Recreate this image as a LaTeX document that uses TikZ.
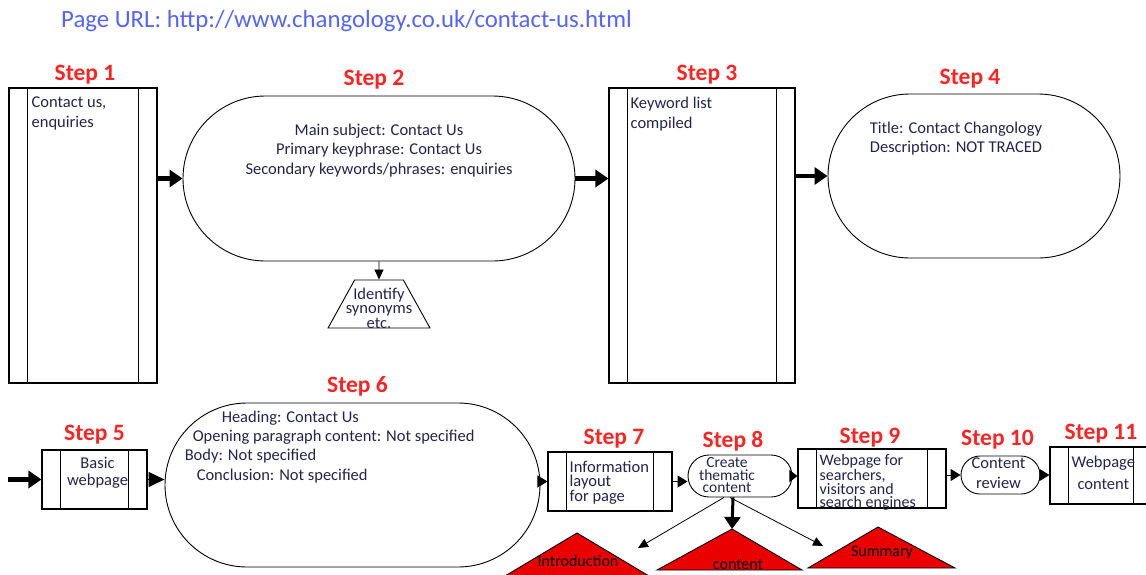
\documentclass[tikz,border=0pt]{standalone}
\usepackage{fontspec}
\setmainfont{Carlito}
\usepackage{xcolor}
\usetikzlibrary{shapes.misc,shapes.geometric,arrows.meta,positioning}

\definecolor{steprd}{RGB}{255,35,35}
\definecolor{urlblue}{RGB}{85,100,250}
\definecolor{inkblue}{RGB}{35,35,75}
\definecolor{trired}{RGB}{235,0,0}

\begin{document}
\begin{tikzpicture}[x=1pt, y=-1pt,
    stepname/.style={text=steprd, font=\fontsize{23.5}{23.5}\selectfont\bfseries, inner sep=1pt},
    procbox/.style={draw, rectangle, line width=1.1pt, inner sep=0pt,
        path picture={
            \draw[line width=1.1pt] ([xshift=18.5pt]path picture bounding box.north west) -- ([xshift=18.5pt]path picture bounding box.south west);
            \draw[line width=1.1pt] ([xshift=-18.5pt]path picture bounding box.north east) -- ([xshift=-18.5pt]path picture bounding box.south east);
        }},
    stadium/.style={draw, rounded rectangle, line width=0.9pt, inner sep=0pt},
    boxtxt/.style={text=inkblue, font=\fontsize{16.5}{20}\selectfont, align=left, inner sep=0pt},
    smalltxt/.style={text=inkblue, font=\fontsize{16.5}{14}\selectfont, align=left, inner sep=0pt},
    tri/.style={draw, fill=trired, line width=0.9pt},
    bigarrow/.style={line width=4.5pt, -{Triangle[length=13pt,width=17pt]}},
    headarrow/.style={line width=1pt, -{Triangle[length=10pt,width=12pt]}},
    thinarrow/.style={line width=0.8pt, -{Triangle[length=10pt,width=9pt]}}
]
\useasboundingbox (0,0) rectangle (1146,574);

\node[anchor=west, text=urlblue, font=\fontsize{24.8}{24.8}\selectfont, inner sep=0pt] (url) at (61,21)
    {Page URL: http://www.changology.co.uk/contact-us.html};

% top row
\node[procbox, minimum width=148pt, minimum height=295pt] (s1) at (83,235.5) {};
\node[stadium, minimum width=392pt, minimum height=165pt] (s2) at (379,178.5) {};
\node[draw, trapezium, trapezium left angle=63, trapezium right angle=63, trapezium stretches=true,
    minimum width=102pt, minimum height=48pt, inner sep=1pt, line width=0.9pt] (syn) at (379,304) {\phantom{x}};
\node[smalltxt, align=center, font=\fontsize{16.5}{14.5}\selectfont] (syntxt) at ([yshift=-4pt]syn.center) {Identify\\synonyms\\etc.};
\node[procbox, minimum width=186pt, minimum height=295pt] (s3) at (702,235.5) {};
\node[stadium, minimum width=292pt, minimum height=164pt] (s4) at (974,176) {};

\node[stepname, above=2pt of s1, xshift=2pt] (l1) {Step 1};
\node[stepname, above=5pt of s2, xshift=-5pt] (l2) {Step 2};
\node[stepname, above=2pt of s3, xshift=5pt] (l3) {Step 3};
\node[stepname, above=4pt of s4, xshift=-4pt] (l4) {Step 4};

\node[boxtxt, below right=9pt and 23pt of s1.north west] (t1) {Contact us,\\enquiries};
\node[boxtxt, align=center, font=\fontsize{16.5}{19.5}\selectfont, below=28pt of s2.north] (t2) {Main subject: Contact Us\\Primary keyphrase: Contact Us\\Secondary keywords/phrases: enquiries};
\node[boxtxt, below right=9pt and 22pt of s3.north west] (t3) {Keyword list\\compiled};
\node[boxtxt, align=center, font=\fontsize{16.5}{19}\selectfont, below=28pt of s4.north, xshift=-18pt] (t4) {Title: Contact Changology\\Description: NOT TRACED};

\draw[bigarrow] (s1.east |- s2.west) -- (s2.west);
\draw[bigarrow] (s2.east) -- (s3.west |- s2.east);
\draw[bigarrow] (s3.east |- s4.west) -- (s4.west);
\draw[thinarrow] (s2.south) -- (syn.north);

% bottom row
\coordinate (in5) at (8,479.5);
\node[procbox, minimum width=105pt, minimum height=59pt] (s5) at (94.5,479.5) {};
\node[stadium, minimum width=375pt, minimum height=164pt] (s6) at (352.5,485) {};
\coordinate (s6nw) at (s6.west |- s6.north);
\node[procbox, minimum width=124pt, minimum height=59pt] (s7) at (610,481.5) {};
\node[stadium, minimum width=104pt, minimum height=42pt] (s8) at (740,476) {};
\node[procbox, minimum width=148pt, minimum height=59pt] (s9) at (872,478.5) {};
\node[stadium, minimum width=79pt, minimum height=38pt] (s10) at (1000.5,475) {};
\node[procbox, minimum width=102pt, minimum height=57pt] (s11) at (1101,475.5) {};

\node[stepname, above=4pt of s5] (l5) {Step 5};
\node[stepname, above=5pt of s6, xshift=5pt] (l6) {Step 6};
\node[stepname, above=2pt of s7, xshift=4pt] (l7) {Step 7};
\node[stepname, above=2pt of s8, xshift=-7pt] (l8) {Step 8};
\node[stepname, above=0pt of s9, xshift=-2pt] (l9) {Step 9};
\node[stepname, above=5pt of s10, xshift=-3pt] (l10) {Step 10};
\node[stepname, above=2pt of s11] (l11) {Step 11};

\node[boxtxt, align=center, font=\fontsize{16.5}{17}\selectfont, below=7pt of s5.north, xshift=3pt] (t5) {Basic\\webpage};
\node[boxtxt, font=\fontsize{16.5}{19.3}\selectfont, below right=8pt and 20pt of s6nw] (t6)
    {\hspace*{37pt}Heading: Contact Us\\\hspace*{8pt}Opening paragraph content: Not specified\\Body: Not specified\\\hspace*{12pt}Conclusion: Not specified};
\node[smalltxt, font=\fontsize{16.5}{14.5}\selectfont, below right=9pt and 22pt of s7.north west] (t7) {Information\\layout\\for page};
\node[smalltxt, align=center, font=\fontsize{15.5}{12.5}\selectfont, below=3pt of s8.north, xshift=-13pt] (t8) {Create\\thematic\\content};
\node[smalltxt, font=\fontsize{16}{13.6}\selectfont, below right=6pt and 22pt of s9.north west] (t9) {Webpage for\\searchers,\\visitors and\\search engines};
\node[smalltxt, align=center, font=\fontsize{16.5}{20}\selectfont, below=2pt of s10.north, xshift=-2pt] (t10) {Content\\review};
\node[smalltxt, align=center, font=\fontsize{16.5}{22}\selectfont, below right=9pt and 22pt of s11.north west] (t11) {Webpage\\content};

\draw[bigarrow] (in5) -- (s5.west);
\draw[headarrow, -{Triangle[length=16pt,width=15pt]}] (s5.east) -- (s5.east -| s6.west);
\draw[headarrow] (s6.east |- s7.west) -- (s7.west);
\draw[headarrow] (s7.east) -- (s7.east -| s8.west);
\draw[headarrow, -{Triangle[length=8pt,width=12pt]}] (s8.east) -- (s8.east -| s9.west);
\draw[headarrow] (s9.east |- s10.west) -- (s10.west);
\draw[headarrow] (s10.east) -- (s10.east -| s11.west);

% red triangles under step 8
\draw[tri] (505,576) -- (577,533) coordinate (introtop) -- (649,576) -- cycle;
\draw[tri] (657,570) -- (732,529) coordinate (conttop) -- (802,570) -- cycle;
\draw[tri] (808,568) -- (878,527) coordinate (sumtop) -- (955,568) -- cycle;
\node[font=\fontsize{16}{16}\selectfont, inner sep=0pt] (intro) at (578,561) {Introduction};
\node[font=\fontsize{16}{16}\selectfont, inner sep=0pt] (cont) at (738,564) {content};
\node[font=\fontsize{16}{16}\selectfont, inner sep=0pt] (summ) at (882,553) {Summary};

\coordinate (introarr) at (638,548);
\coordinate (sumarr) at (823,546);
\draw[line width=3pt, -{Triangle[length=12pt,width=16pt]}] ([xshift=-7pt]s8.south) -- (conttop);
\draw[thinarrow] ([xshift=-16pt]s8.south) -- (introarr);
\draw[thinarrow] ([xshift=-10pt]s8.south) -- (sumarr);

\end{tikzpicture}
\end{document}
